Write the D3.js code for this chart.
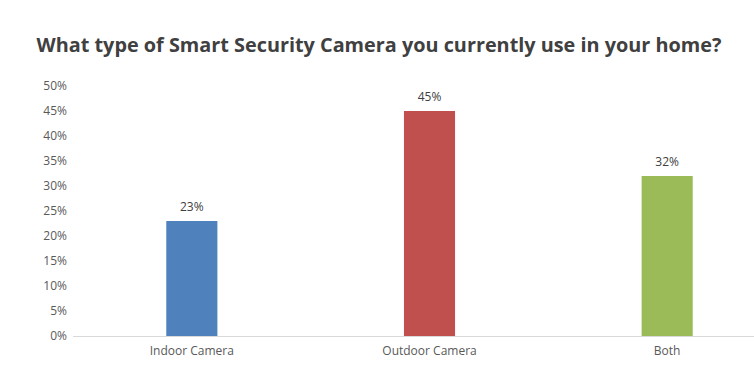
<!DOCTYPE html>
<html><head><meta charset="utf-8">
<script src="https://cdn.jsdelivr.net/npm/d3@7"></script>
<style>body{margin:0;background:#fff}svg{display:block}</style>
</head><body>
<svg id="c" width="754" height="381"></svg>
<script>
const categories = ["Indoor Camera", "Outdoor Camera", "Both"];
const values = [23, 45, 32];
const colors = ["#4F81BD", "#C0504D", "#9BBB59"];
const yTicks = [0, 5, 10, 15, 20, 25, 30, 35, 40, 45, 50];
const title = "What type of Smart Security Camera you currently use in your home?";

const svg = d3.select("#c");
const font = "'Open Sans', 'Noto Sans', sans-serif";

const x = d3.scaleBand().domain(categories).range([73, 786]).paddingInner(0.785).paddingOuter(0.3925);
const y = d3.scaleLinear().domain([0, 50]).range([336, 86]);

// title
const t = svg.append("text").attr("x", 379).attr("y", 52).attr("text-anchor", "middle")
  .attr("font-family", font).attr("font-weight", "bold").attr("font-size", 20)
  .attr("fill", "#404040").text(title);
const w = t.node().getComputedTextLength();
t.attr("font-size", 20 * 685 / w);

// y axis
const yAxis = d3.axisLeft(y).tickValues(yTicks).tickFormat(d => d + "%").tickSize(0).tickPadding(0);
const ga = svg.append("g").attr("transform", "translate(67,0)").call(yAxis);
ga.select(".domain").remove();
ga.selectAll("text").attr("font-family", font).attr("font-size", 12).attr("fill", "#595959");

// bars
svg.append("g").selectAll("rect").data(values).join("rect")
  .attr("x", (d, i) => x(categories[i])).attr("width", x.bandwidth())
  .attr("y", d => y(d)).attr("height", d => y(0) - y(d))
  .attr("fill", (d, i) => colors[i]);

// baseline
svg.append("line").attr("x1", 73).attr("x2", 754).attr("y1", y(0) + 0.5).attr("y2", y(0) + 0.5)
  .attr("stroke", "#d9d9d9").attr("stroke-width", 1);

// value labels
svg.append("g").selectAll("text").data(values).join("text")
  .attr("x", (d, i) => x(categories[i]) + x.bandwidth() / 2).attr("y", d => y(d) - 10)
  .attr("text-anchor", "middle").attr("font-family", font).attr("font-size", 12)
  .attr("fill", "#404040").text(d => d + "%");

// x axis labels
const xAxis = d3.axisBottom(x).tickSize(0).tickPadding(10);
const gx = svg.append("g").attr("transform", `translate(0,${y(0)})`).call(xAxis);
gx.select(".domain").remove();
gx.selectAll("text").attr("font-family", font).attr("font-size", 12).attr("fill", "#595959");
</script>
</body></html>
